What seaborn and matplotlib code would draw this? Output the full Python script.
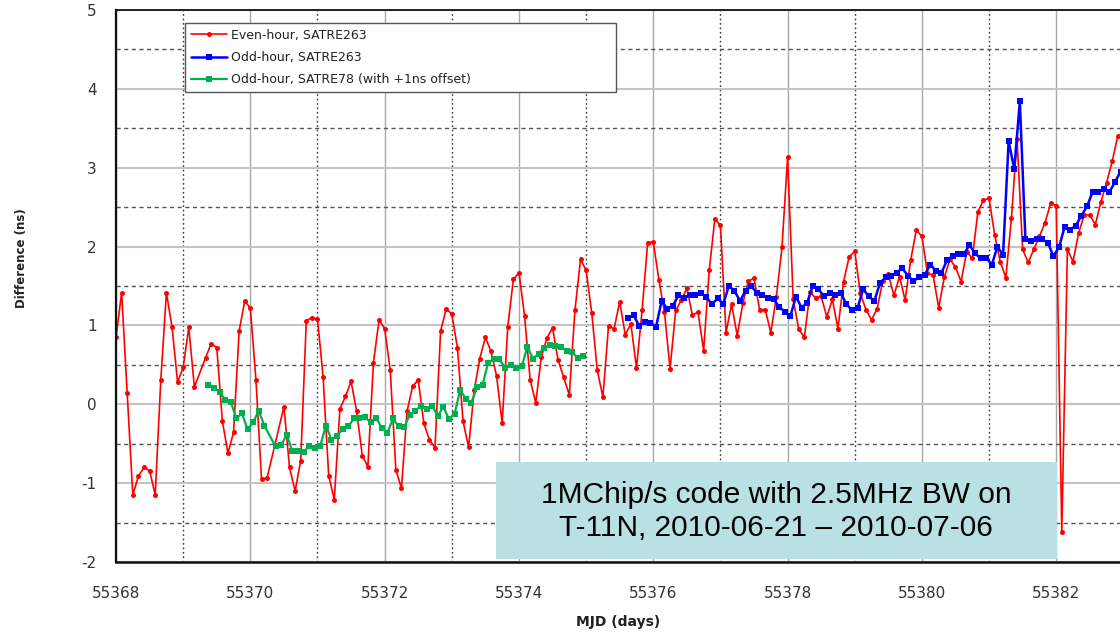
import numpy as np
import matplotlib
matplotlib.use("Agg")
import matplotlib.pyplot as plt
from matplotlib.patches import Rectangle
from matplotlib.ticker import MultipleLocator
import pandas as pd
import seaborn as sns

mjd_start = 55368

# even-hour SATRE263, one value every 2 h starting at hour 0 (None = no point)
even_263 = [0.85, 1.415, 0.14, -1.15, -0.91, -0.80, -0.84, -1.15, 0.31, 1.415,
            0.985, 0.28, 0.47, 0.975, 0.22, None, 0.59, 0.77, 0.72, -0.21,
            -0.62, -0.355, 0.93, 1.31, 1.22, 0.31, -0.95, -0.93, None, None,
            -0.03, -0.80, -1.10, -0.715, 1.06, 1.10, 1.08, 0.35, -0.905, -1.21,
            -0.06, 0.10, 0.29, -0.09, -0.65, -0.79, 0.53, 1.07, 0.96, 0.43,
            -0.83, -1.065, -0.09, 0.23, 0.31, -0.24, -0.45, -0.55, 0.93, 1.21,
            1.145, 0.72, -0.21, -0.545, 0.18, 0.58, 0.85, 0.67, 0.36, -0.24,
            0.98, 1.585, 1.67, 1.12, 0.31, 0.02, 0.60, 0.84, 0.97, 0.56,
            0.34, 0.12, 1.19, 1.84, 1.70, 1.16, 0.43, 0.09, 0.99, 0.96,
            1.30, 0.88, 1.02, 0.46, 1.19, 2.05, 2.06, 1.58, 1.17, 0.45,
            1.19, 1.32, 1.47, 1.13, 1.17, 0.68, 1.70, 2.35, 2.27, 0.91,
            1.27, 0.87, 1.28, 1.56, 1.60, 1.20, 1.20, 0.91, 1.365, 1.99,
            3.13, 1.33, 0.95, 0.85, 1.42, 1.35, 1.37, 1.11, 1.33, 0.96,
            1.555, 1.87, 1.94, 1.41, 1.20, 1.07, 1.21, 1.56, 1.65, 1.38,
            1.62, 1.32, 1.83, 2.21, 2.13, 1.66, 1.64, 1.225, 1.61, 1.84,
            1.74, 1.555, 1.935, 1.85, 2.44, 2.59, 2.61, 2.15, 1.81, 1.605,
            2.36, 3.37, 1.965, 1.80, 1.965, 2.13, 2.30, 2.55, 2.52, -1.615,
            1.965, 1.81, 2.17, 2.40, 2.40, 2.28, 2.57, 2.81, 3.08, 3.40]
even_263_first_hour = 0

# odd-hour SATRE263, every 2 h from hour 183
odd_263 = [1.10, 1.13, 0.99, 1.05, 1.03, 0.985, 1.31, 1.21, 1.25, 1.38,
           1.345, 1.38, 1.385, 1.415, 1.355, 1.27, 1.345, 1.27, 1.50, 1.44,
           1.31, 1.44, 1.50, 1.415, 1.385, 1.345, 1.33, 1.24, 1.17, 1.12,
           1.365, 1.225, 1.29, 1.50, 1.46, 1.37, 1.415, 1.38, 1.415, 1.27,
           1.195, 1.22, 1.46, 1.37, 1.31, 1.535, 1.61, 1.63, 1.67, 1.725,
           1.63, 1.565, 1.61, 1.64, 1.77, 1.695, 1.67, 1.83, 1.88, 1.90,
           1.90, 2.02, 1.915, 1.85, 1.86, 1.77, 2.00, 1.89, 3.34, 2.98,
           3.84, 2.09, 2.07, 2.09, 2.09, 2.05, 1.88, 1.99, 2.25, 2.21,
           2.265, 2.39, 2.51, 2.69, 2.69, 2.73, 2.69, 2.82, 2.95]
odd_263_first_hour = 183

# odd-hour SATRE78 (+1 ns offset), every 2 h from hour 33
odd_78 = [0.24, 0.21, 0.155, 0.06, 0.03, -0.18, -0.115, -0.315, -0.23, -0.08,
          -0.27, None, -0.535, -0.52, -0.385, -0.59, -0.59, -0.61, -0.525, -0.55,
          -0.525, -0.27, -0.45, -0.40, -0.31, -0.28, -0.18, -0.17, -0.165, -0.23,
          -0.17, -0.305, -0.36, -0.18, -0.28, -0.29, -0.13, -0.08, -0.02, -0.06,
          -0.02, -0.145, -0.03, -0.19, -0.12, 0.18, 0.07, 0.02, 0.22, 0.25,
          0.53, 0.57, 0.57, 0.465, 0.50, 0.465, 0.48, 0.73, 0.58, 0.64,
          0.72, 0.75, 0.74, 0.73, 0.675, 0.66, 0.59, 0.615]
odd_78_first_hour = 33

x_ticks = [55368, 55370, 55372, 55374, 55376, 55378, 55380, 55382]
y_ticks = [-2, -1, 0, 1, 2, 3, 4, 5]


def to_frame(vals, first_hour):
    hours = first_hour + 2 * np.arange(len(vals))
    df = pd.DataFrame({"mjd": mjd_start + hours / 24.0,
                       "ns": pd.to_numeric(pd.Series(vals), errors="coerce")})
    return df.dropna()


sns.set_style("white")
plt.rcParams["font.family"] = ["DejaVu Sans"]

fig = plt.figure(figsize=(11.2, 6.37), dpi=100)
ax = fig.add_axes([0.1036, 0.1177, 0.8964, 0.8666])

sns.lineplot(data=to_frame(even_263, even_263_first_hour), x="mjd", y="ns", ax=ax,
             color="#ff0000", marker="o", markersize=3.6, markeredgewidth=0,
             linewidth=1.2, label="Even-hour, SATRE263", estimator=None, sort=False)
sns.lineplot(data=to_frame(odd_263, odd_263_first_hour), x="mjd", y="ns", ax=ax,
             color="#0000ff", marker="s", markersize=4.3, markeredgewidth=0,
             linewidth=1.8, label="Odd-hour, SATRE263", estimator=None, sort=False)
sns.lineplot(data=to_frame(odd_78, odd_78_first_hour), x="mjd", y="ns", ax=ax,
             color="#00b050", marker="s", markersize=4.3, markeredgewidth=0,
             linewidth=1.6, label="Odd-hour, SATRE78 (with +1ns offset)",
             estimator=None, sort=False)

ax.set_xlim(55368, 55382.95)
ax.set_ylim(-2, 5)
ax.set_xticks(x_ticks)
ax.set_xticklabels([str(t) for t in x_ticks])
ax.set_yticks(y_ticks)
ax.set_yticklabels([str(t) for t in y_ticks])
ax.xaxis.set_minor_locator(MultipleLocator(1))
ax.yaxis.set_minor_locator(MultipleLocator(0.5))

ax.set_axisbelow(True)
ax.grid(which="major", axis="x", color="#a8a8a8", lw=1.0, ls="-")
ax.grid(which="minor", axis="x", color="#333333", lw=1.0, ls=(0, (1.2, 2)))
ax.grid(which="major", axis="y", color="#c4c4c4", lw=1.5, ls="-")
ax.grid(which="minor", axis="y", color="#555555", lw=1.0, ls=(0, (3, 2.5)))

ax.tick_params(axis="both", which="major", direction="out", length=5, width=1.2,
               color="#222222", labelsize=11, labelcolor="#333333")
ax.tick_params(axis="y", which="major", pad=9)
ax.tick_params(axis="x", which="major", pad=12)
ax.tick_params(which="minor", length=0)

for side in ["left", "bottom", "top"]:
    ax.spines[side].set_color("#111111")
ax.spines["left"].set_linewidth(1.6)
ax.spines["bottom"].set_linewidth(1.8)
ax.spines["top"].set_linewidth(1.3)
ax.spines["right"].set_visible(False)

ax.set_xlabel("")
ax.set_ylabel("")
fig.text(0.552, 0.024, "MJD (days)", ha="center", va="center",
         fontsize=10, fontweight="bold", color="#222222")
fig.text(0.0196, 0.595, "Difference (ns)", ha="center", va="center",
         rotation=90, fontsize=8.5, fontweight="bold", color="#222222")

leg = ax.legend(loc="upper left", bbox_to_anchor=(0.0687, 0.70, 0.4293, 0.2764),
                mode="expand", borderaxespad=0, fontsize=9, frameon=True,
                fancybox=False, edgecolor="#555555", framealpha=1,
                handlelength=2.9, handletextpad=0.35, labelspacing=0.75,
                borderpad=0.45, numpoints=1)
leg.get_frame().set_linewidth(1.0)
for t in leg.get_texts():
    t.set_color("#222222")

ax.add_patch(Rectangle((0.3785, 0.006), 0.5583, 0.1752, transform=ax.transAxes,
                       facecolor="#b9e0e3", edgecolor="none", zorder=5,
                       clip_on=False))
ax.text(0.6574, 0.0915, "1MChip/s code with 2.5MHz BW on\nT-11N, 2010-06-21 \u2013 2010-07-06",
        transform=ax.transAxes, ha="center", va="center", fontsize=21.5,
        family="Liberation Sans", linespacing=1.25, color="#000000", zorder=6)

fig.savefig("out.png", dpi=100)
